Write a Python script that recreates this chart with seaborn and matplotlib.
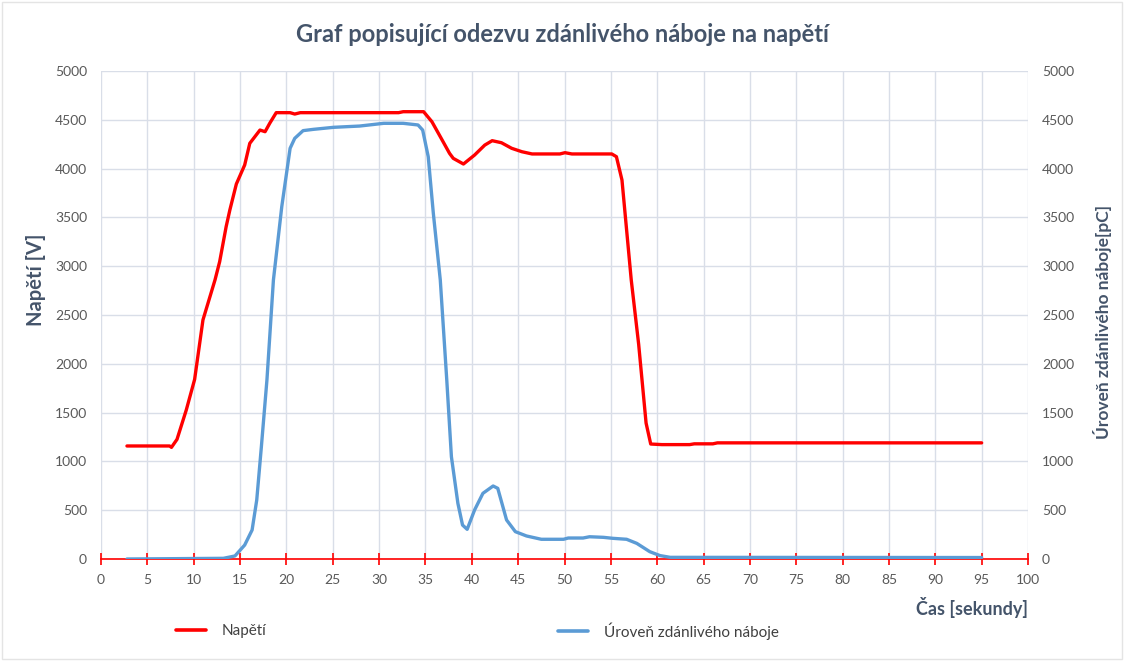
import matplotlib
matplotlib.use("Agg")
import matplotlib.pyplot as plt
import seaborn as sns
import pandas as pd
from matplotlib.patches import Rectangle
from matplotlib.lines import Line2D

# Napětí [V] vs. čas [s]
cas_napeti = [2.8, 7.4, 7.6, 8.2, 9.2, 10.1, 11.0, 12.3, 12.8, 13.5, 13.9, 14.6, 15.5,
              16.05, 17.15, 17.7, 18.2, 18.9, 20.4, 20.9, 21.5, 32.1, 32.6, 34.8,
              35.7, 36.7, 37.6, 38.0, 39.1, 40.3, 41.4, 42.2, 43.2, 44.3, 45.4, 46.5,
              49.5, 50.05, 50.8, 55.1, 55.6, 56.2, 57.2, 58.0, 58.8, 59.3, 60.5, 63.5,
              64.0, 66.0, 66.5, 95.0]
napeti = [1158, 1158, 1144, 1226, 1527, 1840, 2450, 2860, 3046, 3405, 3576, 3842, 4037,
          4259, 4395, 4378, 4464, 4573, 4573, 4559, 4573, 4573, 4583, 4583,
          4480, 4310, 4156, 4105, 4047, 4139, 4241, 4286, 4265, 4208, 4173, 4150,
          4150, 4163, 4150, 4150, 4122, 3883, 2859, 2200, 1393, 1178, 1172, 1172,
          1180, 1180, 1190, 1190]

# Úroveň zdánlivého náboje [pC] vs. čas [s]
cas_naboj = [2.8, 13.2, 14.45, 15.5, 16.3, 16.8, 17.3, 17.9, 18.6, 19.5, 20.4, 20.9,
             21.8, 22.9, 25.1, 27.9, 30.5, 32.6, 34.2, 34.7, 35.3, 35.85, 36.6, 37.3,
             37.8, 38.5, 39.0, 39.5, 40.3, 41.2, 42.3, 42.8, 43.75, 44.7, 45.9, 47.5,
             49.9, 50.4, 52.0, 52.7, 54.2, 55.2, 56.7, 57.8, 59.2, 60.3, 61.4, 95.0]
naboj = [0, 7, 31, 143, 297, 604, 1150, 1834, 2859, 3610, 4208, 4310,
         4389, 4402, 4423, 4436, 4464, 4464, 4447, 4395, 4122, 3542, 2859, 1834,
         1048, 570, 348, 304, 502, 673, 748, 724, 400, 280, 236, 202,
         202, 215, 215, 228, 222, 212, 202, 160, 75, 35, 17, 15]

x_ticks = list(range(0, 101, 5))
y_ticks = list(range(0, 5001, 500))

df_u = pd.DataFrame({"t": cas_napeti, "v": napeti})
df_q = pd.DataFrame({"t": cas_naboj, "v": naboj})

sns.set_style("white")
plt.rcParams["font.family"] = ["Lato", "DejaVu Sans"]

text_col = "#44546A"
tick_col = "#595959"
grid_col = "#D9DEE8"
red = "#FF0000"
blue = "#5B9BD5"

fig = plt.figure(figsize=(11.24, 6.61), dpi=100)
ax = fig.add_axes([101 / 1124, 1 - 559 / 661, (1028 - 101) / 1124, (559 - 71) / 661])
ax2 = ax.twinx()

sns.lineplot(data=df_u, x="t", y="v", ax=ax, color=red, linewidth=2.4, zorder=3)
sns.lineplot(data=df_q, x="t", y="v", ax=ax2, color=blue, linewidth=2.4, zorder=3)

for a in (ax, ax2):
    a.set_xlim(0, 100)
    a.set_ylim(0, 5000)
    a.set_yticks(y_ticks)
    for s in a.spines.values():
        s.set_visible(False)
    a.set_xlabel("")
    a.set_ylabel("")

ax.set_xticks(x_ticks)
ax.set_xticklabels([str(v) for v in x_ticks])
ax.grid(True, color=grid_col, linewidth=1.0)
ax.set_axisbelow(True)

# red horizontal axis line with crossing tick marks
ax.spines["bottom"].set_visible(True)
ax.spines["bottom"].set_color(red)
ax.spines["bottom"].set_linewidth(1.2)
ax.tick_params(axis="x", bottom=True, colors=red, direction="inout", length=9, width=1.2,
               labelcolor=tick_col, labelsize=10, pad=6)
ax.tick_params(axis="y", left=False, length=0, labelcolor=tick_col, labelsize=10, pad=10)
ax2.tick_params(axis="y", right=False, length=0, labelcolor=tick_col, labelsize=10, pad=10)
ax2.grid(False)

fig.text(0.5, 1 - 35 / 661, "Graf popisující odezvu zdánlivého náboje na napětí",
         ha="center", va="center", fontsize=17, fontweight="bold", color=text_col)
fig.text(36 / 1124, 1 - 280 / 661, "Napětí [V]", rotation=90, ha="center", va="center",
         fontsize=14.5, fontweight="bold", color=text_col)
fig.text(1102 / 1124, 1 - 322 / 661, "Úroveň zdánlivého náboje[pC]", rotation=90,
         ha="center", va="center", fontsize=12.5, fontweight="bold", color=text_col)
fig.text(1028 / 1124, 1 - 607 / 661, "Čas [sekundy]", ha="right", va="center",
         fontsize=13, fontweight="bold", color=text_col)

handles = [Line2D([], [], color=red, linewidth=2.6),
           Line2D([], [], color=blue, linewidth=2.6)]
fig.legend(handles[:1], ["Napětí"], loc="center left", frameon=False,
           bbox_to_anchor=(162 / 1124, 1 - 631 / 661), fontsize=11,
           handlelength=2.0, handletextpad=1.0, labelcolor="#404040")
fig.legend(handles[1:], ["Úroveň zdánlivého náboje"], loc="center left", frameon=False,
           bbox_to_anchor=(544 / 1124, 1 - 631 / 661), fontsize=11,
           handlelength=2.0, handletextpad=1.0, labelcolor="#404040")

fig.patches.append(Rectangle((0.002, 0.003), 0.996, 0.994, transform=fig.transFigure,
                             fill=False, edgecolor="#E4E4E4", linewidth=1.0))

fig.savefig("out.png", dpi=100)
